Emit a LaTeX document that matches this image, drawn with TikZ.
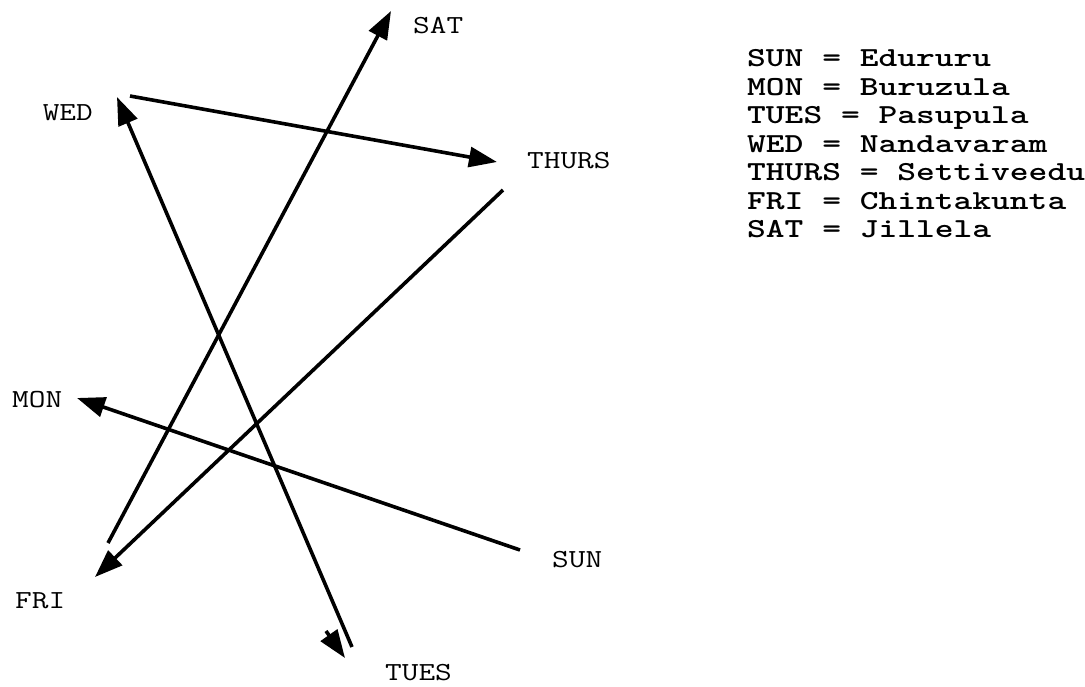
\documentclass[tikz,border=0pt]{standalone}
\usepackage{fontspec}
\usetikzlibrary{arrows.meta}
\newcommand{\lblfont}{\ttfamily\fontsize{26}{26}\selectfont}
\newcommand{\legfont}{\ttfamily\bfseries\fontsize{27.5}{27.5}\selectfont}
\newcommand{\lblwide}[1]{\scalebox{1.245}[1]{#1}}
\newcommand{\legwide}[1]{\scalebox{1.30}[1]{#1}}
\begin{document}
\begin{tikzpicture}[x=1pt,y=-1pt,
  lbl/.style={font=\lblfont, inner sep=0pt, anchor=base west},
  leg/.style={font=\legfont, inner sep=0pt, anchor=base west},
  conn/.style={line width=3.6pt, -{Triangle[length=28pt,width=20pt]}}]
\useasboundingbox (0,0) rectangle (1085,686);
% day labels
\node[lbl] (sat) at (413,33) {\lblwide{SAT}};
\node[lbl, anchor=base east] (wed) at (93,120) {\lblwide{WED}};
\node[lbl] (thurs) at (527,168) {\lblwide{THURS}};
\node[lbl] (mon) at (12,407) {\lblwide{MON}};
\node[lbl] (sun) at (552,567) {\lblwide{SUN}};
\node[lbl] (fri) at (15,608) {\lblwide{FRI}};
\node[lbl] (tues) at (385,680) {\lblwide{TUES}};
% connector end points
\coordinate (sunS) at (520,550);
\coordinate (monT) at (77,398);
\coordinate (tuesS) at (352,647);
\coordinate (wedT) at (117,97);
\coordinate (wedS) at (130,96);
\coordinate (thursT) at (497,162);
\coordinate (thursS) at (503,190);
\coordinate (friT) at (95,577);
\coordinate (friS) at (108,543);
\coordinate (satT) at (391,11);
\coordinate (tuesA) at (326,631);
\coordinate (tuesT) at (345,658);
% connectors
\draw[conn] (sunS) -- (monT);
\draw[conn] (tuesS) -- (wedT);
\draw[conn] (wedS) -- (thursT);
\draw[conn] (thursS) -- (friT);
\draw[conn] (friS) -- (satT);
\draw[conn] (tuesA) -- (tuesT);
% legend
\node[leg] (l1) at (747,66.5) {\legwide{SUN = Edururu}};
\node[leg] (l2) at (747,95) {\legwide{MON = Buruzula}};
\node[leg] (l3) at (747,123.5) {\legwide{TUES = Pasupula}};
\node[leg] (l4) at (747,152) {\legwide{WED = Nandavaram}};
\node[leg] (l5) at (747,180.5) {\legwide{THURS = Settiveedu}};
\node[leg] (l6) at (747,209) {\legwide{FRI = Chintakunta}};
\node[leg] (l7) at (747,237.5) {\legwide{SAT = Jillela}};
\end{tikzpicture}
\end{document}
